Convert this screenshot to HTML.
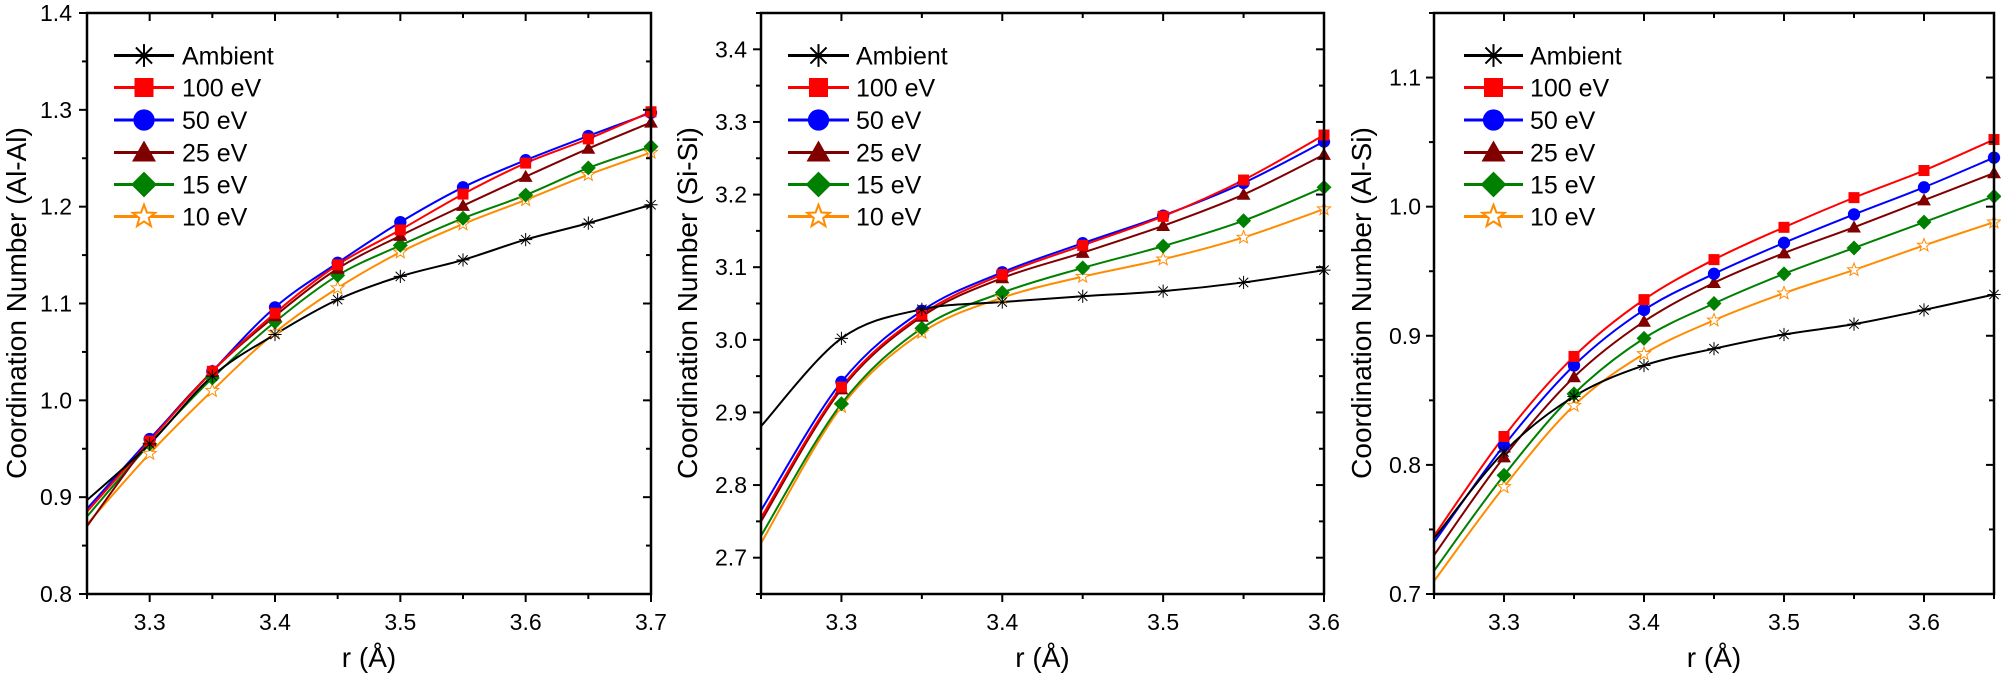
<!DOCTYPE html>
<html><head><meta charset="utf-8">
<style>
html,body{margin:0;padding:0;background:#fff;}
svg{display:block;}
text{font-family:"Liberation Sans",Arial,sans-serif;fill:#000;}
</style></head>
<body>
<svg id="s" width="2001" height="682" xmlns="http://www.w3.org/2000/svg"></svg>
<script>
const NS="http://www.w3.org/2000/svg";
const svg=document.getElementById('s');
function el(t,a,p){const e=document.createElementNS(NS,t);for(const k in a)e.setAttribute(k,a[k]);(p||svg).appendChild(e);return e;}
const colors=['#000000','#ff0000','#0000ff','#800000','#008000','#ff8c00'];
const names=['Ambient','100 eV','50 eV','25 eV','15 eV','10 eV'];
const panels=[
 {L:87,R:651,T:13,B:594,x0:3.25,x1:3.7,y0:0.8,y1:1.4,yt:[0.8,0.9,1.0,1.1,1.2,1.3,1.4],xt:[3.3,3.4,3.5,3.6,3.7],title:'Coordination Number (Al-Al)',tx:26,lx:72,leg:[114,174,182],
  d:[[.897,.955,1.025,1.068,1.104,1.128,1.145,1.166,1.183,1.202],
     [.885,.958,1.03,1.09,1.14,1.176,1.213,1.245,1.27,1.298],
     [.888,.96,1.03,1.096,1.142,1.184,1.22,1.248,1.273,1.297],
     [.87,.958,1.03,1.087,1.136,1.17,1.201,1.231,1.26,1.287],
     [.88,.955,1.023,1.081,1.129,1.16,1.188,1.212,1.24,1.262],
     [.872,.945,1.01,1.07,1.116,1.153,1.182,1.207,1.233,1.256]]},
 {L:761,R:1324,T:13,B:594,x0:3.25,x1:3.6,y0:2.65,y1:3.45,yt:[2.7,2.8,2.9,3.0,3.1,3.2,3.3,3.4],xt:[3.3,3.4,3.5,3.6],title:'Coordination Number (Si-Si)',tx:697,lx:747,leg:[788,849,856],
  d:[[2.881,3.002,3.042,3.052,3.06,3.067,3.079,3.096],
     [2.755,2.935,3.035,3.09,3.13,3.17,3.22,3.282],
     [2.765,2.942,3.04,3.093,3.133,3.171,3.216,3.273],
     [2.75,2.932,3.032,3.085,3.12,3.157,3.2,3.255],
     [2.73,2.912,3.016,3.065,3.099,3.129,3.164,3.21],
     [2.72,2.908,3.01,3.058,3.087,3.111,3.141,3.18]]},
 {L:1434,R:1994,T:13,B:594,x0:3.25,x1:3.65,y0:0.7,y1:1.15,yt:[0.7,0.8,0.9,1.0,1.1],xt:[3.3,3.4,3.5,3.6],title:'Coordination Number (Al-Si)',tx:1371,lx:1421,leg:[1464,1523,1530],
  d:[[.743,.81,.853,.877,.89,.901,.909,.92,.932],
     [.745,.822,.884,.928,.959,.984,1.007,1.028,1.052],
     [.74,.815,.877,.92,.948,.972,.994,1.015,1.038],
     [.73,.806,.868,.911,.941,.964,.984,1.005,1.026],
     [.718,.792,.855,.898,.925,.948,.968,.988,1.008],
     [.71,.783,.846,.886,.912,.933,.951,.97,.988]]}
];
function marker(g,i,x,y,s){
 const c=colors[i];
 if(i==0){const r=s*0.6;for(const a of [0,45,90,135]){const dx=Math.cos(a*Math.PI/180)*r,dy=Math.sin(a*Math.PI/180)*r;el('line',{x1:x-dx,y1:y-dy,x2:x+dx,y2:y+dy,stroke:c,'stroke-width':s>12?2:1},g);}}
 else if(i==1){el('rect',{x:x-s/2,y:y-s/2,width:s,height:s,fill:c},g);}
 else if(i==2){el('circle',{cx:x,cy:y,r:s*0.56,fill:c},g);}
 else if(i==3){const h=s*1.05;el('polygon',{points:`${x},${y-h*0.6} ${x-h*0.6},${y+h*0.45} ${x+h*0.6},${y+h*0.45}`,fill:c},g);}
 else if(i==4){const h=s*0.68;el('polygon',{points:`${x},${y-h} ${x+h},${y} ${x},${y+h} ${x-h},${y}`,fill:c},g);}
 else {const R=s*0.62,r=R*0.42;let p=[];for(let k=0;k<10;k++){const a=-Math.PI/2+k*Math.PI/5;const rr=k%2?r:R;p.push((x+rr*Math.cos(a)).toFixed(1)+','+(y+rr*Math.sin(a)).toFixed(1));}
  el('polygon',{points:p.join(' '),fill:'#fff',stroke:c,'stroke-width':s>12?2:1},g);}
}
function path(pts){let d=`M${pts[0][0]},${pts[0][1]}`;for(let i=0;i<pts.length-1;i++){const p0=pts[Math.max(0,i-1)],p1=pts[i],p2=pts[i+1],p3=pts[Math.min(pts.length-1,i+2)];
 const c1=[p1[0]+(p2[0]-p0[0])/6,p1[1]+(p2[1]-p0[1])/6],c2=[p2[0]-(p3[0]-p1[0])/6,p2[1]-(p3[1]-p1[1])/6];d+=` C${c1[0]},${c1[1]} ${c2[0]},${c2[1]} ${p2[0]},${p2[1]}`;}return d;}
for(const P of panels){
 const X=v=>P.L+(v-P.x0)/(P.x1-P.x0)*(P.R-P.L), Y=v=>P.B-(v-P.y0)/(P.y1-P.y0)*(P.B-P.T);
 const g=el('g',{});
 for(let i=5;i>=0;i--){
   const pts=P.d[i].map((v,k)=>[X(P.x0+0.05*k),Y(v)]);
   el('path',{d:path(pts),fill:'none',stroke:colors[i],'stroke-width':2},g);
 }
 for(let i=5;i>=0;i--){P.d[i].forEach((v,k)=>{if(k>0)marker(g,i,X(P.x0+0.05*k),Y(v),11);});}
 el('rect',{x:P.L,y:P.T,width:P.R-P.L,height:P.B-P.T,fill:'none',stroke:'#000','stroke-width':2.5},g);
 for(let v=P.y0;v<=P.y1+1e-9;v+=0.05){const y=Y(v);const major=P.yt.some(t=>Math.abs(t-v)<1e-6);const len=major?8:5;
  el('line',{x1:P.L-len,y1:y,x2:P.L,y2:y,stroke:'#000','stroke-width':2},g);
  el('line',{x1:P.R-len,y1:y,x2:P.R,y2:y,stroke:'#000','stroke-width':2},g);}
 for(const t of P.yt){const tx=el('text',{x:P.lx,y:Y(t)+8,'font-size':23,'text-anchor':'end'},g);tx.textContent=t.toFixed(1);}
 for(let v=P.x0;v<=P.x1+1e-9;v+=0.05){const x=X(v);const major=P.xt.some(t=>Math.abs(t-v)<1e-6);const len=major?8:5;
  el('line',{x1:x,y1:P.B,x2:x,y2:P.B+len,stroke:'#000','stroke-width':2},g);
  el('line',{x1:x,y1:P.T,x2:x,y2:P.T+len,stroke:'#000','stroke-width':2},g);}
 for(const t of P.xt){const tx=el('text',{x:X(t),y:630,'font-size':23,'text-anchor':'middle'},g);tx.textContent=t.toFixed(1);}
 const xt=el('text',{x:(P.L+P.R)/2,y:667,'font-size':28,'text-anchor':'middle'},g);xt.textContent='r (Å)';
 const yt=el('text',{x:0,y:0,'font-size':28,'text-anchor':'middle',transform:`translate(${P.tx},303) rotate(-90)`},g);yt.textContent=P.title;
 const rows=[55.5,87.5,120,152.5,184.5,216.5];
 for(let i=0;i<6;i++){const y=rows[i];
  el('line',{x1:P.leg[0],y1:y,x2:P.leg[1],y2:y,stroke:colors[i],'stroke-width':3},g);
  marker(g,i,(P.leg[0]+P.leg[1])/2,y,19);
  const t=el('text',{x:P.leg[2],y:y+9,'font-size':25},g);t.textContent=names[i];}
}
</script>
</body></html>
